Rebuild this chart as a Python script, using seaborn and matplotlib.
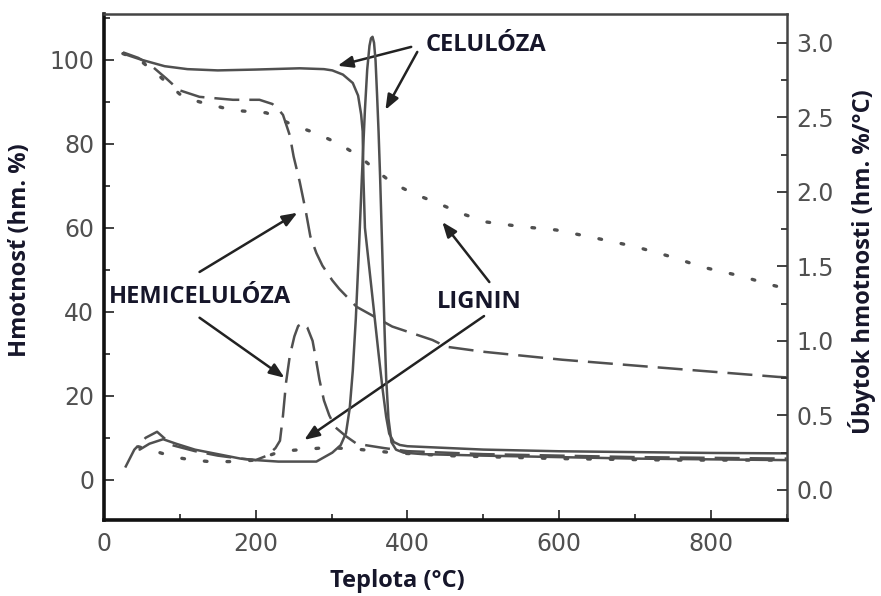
import matplotlib
matplotlib.use("Agg")
import matplotlib.pyplot as plt
from matplotlib.ticker import MultipleLocator
import seaborn as sns

# ====================== DATA ======================
# TG curves (left axis, hm. %)
cel_tg_t = [25, 50, 80, 110, 150, 200, 258, 290, 301, 315, 328, 335, 339, 341, 342, 344,
            350, 356, 362, 367, 372, 376, 382, 390, 400, 500, 600, 700, 800, 900]
cel_tg_w = [101.5, 100, 98.5, 97.8, 97.5, 97.7, 98, 97.8, 97.5, 96.5, 94.5, 91.5, 87, 83, 72, 60,
            50, 40, 30, 22, 15, 11, 9, 8.3, 8, 7.2, 6.8, 6.6, 6.4, 6.3]

hem_tg_t = [25, 45, 60, 82, 99, 126, 170, 205, 222, 231, 236, 245, 250, 258, 266, 272, 280,
            288, 301, 310, 333, 380, 433, 451, 500, 604, 735, 889, 900]
hem_tg_w = [101.8, 100.5, 99, 95.6, 92.8, 91.2, 90.5, 90.5, 89.5, 88, 86.9, 82, 77, 71, 64, 58, 54,
            51, 47.5, 45.5, 41.2, 36.5, 33.3, 31.7, 30.5, 28.6, 26.7, 24.5, 24.4]

lig_tg_t = [25, 47, 74, 104, 126, 170, 214, 249, 280, 310, 337, 360, 380, 410, 440, 470,
            504, 550, 596, 650, 701, 750, 788, 840, 880, 900]
lig_tg_w = [101.5, 100, 96, 91.2, 90, 88, 87.4, 84.5, 82.5, 80, 77, 73.5, 70.7, 68, 65.9, 63.5,
            61.4, 60.3, 59.5, 57.5, 55.5, 53, 50.7, 48.5, 46.4, 45.5]

# DTG curves (right axis, hm. %/°C)
cel_dtg_t = [47, 60, 78, 95, 120, 150, 180, 200, 230, 258, 280, 301, 312, 319, 324, 328, 332,
             336, 340, 344, 347, 350, 352, 354, 356, 358, 360, 362, 364, 366, 368, 370, 372,
             375, 379, 385, 395, 420, 500, 600, 700, 800, 900]
cel_dtg_r = [0.27, 0.31, 0.34, 0.31, 0.27, 0.24, 0.21, 0.2, 0.19, 0.19, 0.19, 0.25, 0.3, 0.38,
             0.55, 0.8, 1.15, 1.6, 2.1, 2.55, 2.82, 2.98, 3.03, 3.04, 3.0, 2.88, 2.65, 2.4, 2.1,
             1.75, 1.4, 1.05, 0.75, 0.48, 0.32, 0.27, 0.25, 0.24, 0.23, 0.22, 0.21, 0.205, 0.2]

hem_dtg_t = [28, 40, 55, 70, 90, 120, 150, 180, 200, 215, 226, 232, 236, 240, 245, 251, 256,
             262, 268, 275, 280, 284, 290, 297, 305, 319, 333, 345, 370, 400, 500, 600, 700,
             800, 900]
hem_dtg_r = [0.15, 0.27, 0.35, 0.39, 0.3, 0.26, 0.23, 0.21, 0.2, 0.23, 0.28, 0.33, 0.5, 0.72,
             0.9, 1.03, 1.1, 1.12, 1.09, 1.0, 0.86, 0.74, 0.6, 0.5, 0.42, 0.36, 0.31, 0.3, 0.28,
             0.26, 0.24, 0.23, 0.22, 0.215, 0.21]

lig_dtg_t = [45, 67, 93, 117, 139, 170, 200, 234, 260, 284, 310, 340, 380, 450, 600, 750, 900]
lig_dtg_r = [0.29, 0.26, 0.22, 0.2, 0.19, 0.19, 0.2, 0.26, 0.27, 0.28, 0.28, 0.27, 0.25, 0.23,
             0.21, 0.2, 0.2]

x_ticks = [0, 200, 400, 600, 800]
left_ticks = [0, 20, 40, 60, 80, 100]
right_ticks = [0.0, 0.5, 1.0, 1.5, 2.0, 2.5, 3.0]

# ====================== STYLE ======================
sns.set_style("ticks")
plt.rcParams['font.family'] = ['DejaVu Sans']

LINE = '#505050'
TXT = '#16162a'
TICK = '#505050'
LAB_FONT = ['Open Sans', 'DejaVu Sans']

fig = plt.figure(figsize=(8.81, 5.96), dpi=100)
ax = fig.add_axes([0.118, 0.128, 0.775, 0.849])
ax2 = ax.twinx()

lw = 1.8
dashed = (0, (10, 4))
dotted = (0, (0.8, 6))

sns.lineplot(x=cel_tg_t, y=cel_tg_w, ax=ax, color=LINE, lw=lw)
sns.lineplot(x=hem_tg_t, y=hem_tg_w, ax=ax, color=LINE, lw=lw, linestyle=dashed)
sns.lineplot(x=lig_tg_t, y=lig_tg_w, ax=ax, color=LINE, lw=2.4, linestyle=dotted,
             dash_capstyle='round')

sns.lineplot(x=cel_dtg_t, y=cel_dtg_r, ax=ax2, color=LINE, lw=lw)
sns.lineplot(x=hem_dtg_t, y=hem_dtg_r, ax=ax2, color=LINE, lw=lw, linestyle=dashed)
sns.lineplot(x=lig_dtg_t, y=lig_dtg_r, ax=ax2, color=LINE, lw=2.4, linestyle=dotted,
             dash_capstyle='round')

ax.set_xlim(0, 900)
ax.set_ylim(-9.5, 111)
ax2.set_ylim(-0.2, 3.195)

ax.set_xticks(x_ticks)
ax.set_yticks(left_ticks)
ax2.set_yticks(right_ticks)
ax.xaxis.set_minor_locator(MultipleLocator(100))
ax.yaxis.set_minor_locator(MultipleLocator(10))
ax2.yaxis.set_minor_locator(MultipleLocator(0.25))
ax2.set_yticklabels([f"{v:.1f}" for v in right_ticks])

for a in (ax, ax2):
    a.tick_params(which='both', direction='in', colors='#333333', labelcolor=TICK,
                  labelsize=17, width=1.3)
    a.tick_params(which='major', length=7)
    a.tick_params(which='minor', length=4)
ax.tick_params(axis='x', pad=9)
ax.tick_params(axis='y', pad=7)
ax2.tick_params(axis='y', pad=7)

ax.set_xlabel('')
ax.set_ylabel('')
ax2.set_ylabel('')

for s in ('left', 'bottom'):
    ax.spines[s].set_linewidth(2.6)
    ax.spines[s].set_color('#111111')
for s in ('top', 'right'):
    ax.spines[s].set_linewidth(1.8)
    ax.spines[s].set_color('#444444')
for s in ax2.spines.values():
    s.set_visible(False)

# axis titles
lab_kw = dict(family=LAB_FONT, fontweight='bold', color=TXT, fontsize=17)
fig.text(397 / 881, 1 - 581 / 596, 'Teplota (°C)', ha='center', va='center', **lab_kw)
fig.text(20 / 881, 1 - 250 / 596, 'Hmotnosť (hm. %)', ha='center', va='center',
         rotation=90, **lab_kw)
fig.text(862 / 881, 1 - 262 / 596, 'Úbytok hmotnosti (hm. %/°C)', ha='center', va='center',
         rotation=90, **lab_kw)

# annotations
arr = dict(arrowstyle='-|>,head_length=0.9,head_width=0.35', color='#222222', lw=1.8,
           shrinkA=0, shrinkB=0)
ann_kw = dict(family=LAB_FONT, fontweight='bold', color=TXT, fontsize=17)

ax.text(504, 103.5, 'CELULÓZA', ha='center', va='center', **ann_kw)
ax.annotate('', xy=(308, 98.6), xytext=(405, 103.1), arrowprops=arr)
ax.annotate('', xy=(371, 88.1), xytext=(413, 101.9), arrowprops=arr)

ax.text(126, 43.5, 'HEMICELULÓZA', ha='center', va='center', **ann_kw)
ax.annotate('', xy=(255, 63.6), xytext=(126, 49.5), arrowprops=arr)
ax.annotate('', xy=(238, 24.3), xytext=(126, 38.6), arrowprops=arr)

ax.text(495, 42.4, 'LIGNIN', ha='center', va='center', **ann_kw)
ax.annotate('', xy=(446, 61.4), xytext=(508, 47.1), arrowprops=arr)
ax.annotate('', xy=(264, 9.5), xytext=(501, 39), arrowprops=arr)

fig.savefig('out.png', dpi=100)
